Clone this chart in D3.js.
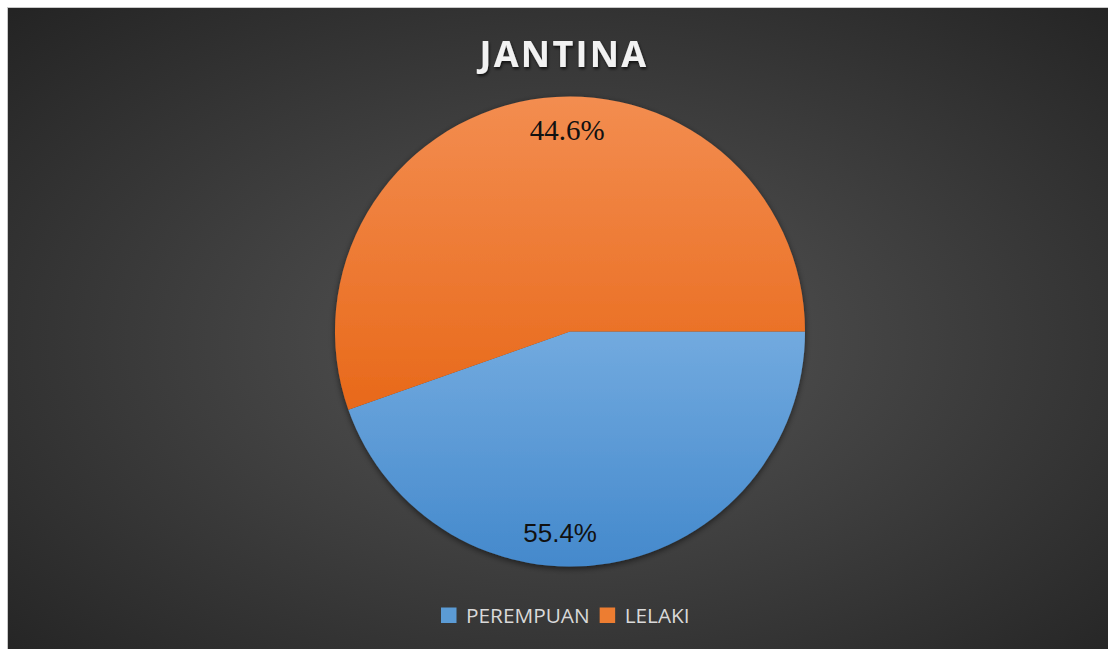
<!DOCTYPE html>
<html>
<head>
<meta charset="utf-8">
<script src="https://cdn.jsdelivr.net/npm/d3@7"></script>
<style>
  html, body { margin: 0; padding: 0; background: #fff; overflow: hidden; }
  svg { display: block; }
  .lbl-serif { font-family: "Liberation Serif", "DejaVu Serif", serif; }
  .lbl-sans { font-family: "Liberation Sans", Arial, sans-serif; }
</style>
</head>
<body>
<svg id="chart"></svg>
<script>
// JANTINA pie
const categories = ['PEREMPUAN', 'LELAKI'];
const sliceValues = [44.6, 55.4];
const labelTexts = ['55.4%', '44.6%'];
const sliceColors = [
  { top: '#72aadf', bottom: '#4489cc' },
  { top: '#f38d50', bottom: '#e8691a' }
];
const legendColors = ['#5b9bd5', '#ed7d31'];

const width = 1108, height = 649;
const svg = d3.select('#chart').attr('width', width).attr('height', height);
const defs = svg.append('defs');

// background radial gradient
const bg = defs.append('radialGradient').attr('id', 'bg')
  .attr('cx', '50%').attr('cy', '50%').attr('r', '70%');
bg.append('stop').attr('offset', '0%').attr('stop-color', '#565656');
bg.append('stop').attr('offset', '100%').attr('stop-color', '#242424');

sliceColors.forEach((c, i) => {
  const g = defs.append('linearGradient').attr('id', 'slice' + i)
    .attr('x1', 0).attr('y1', 0).attr('x2', 0).attr('y2', 1);
  g.append('stop').attr('offset', '0%').attr('stop-color', c.top);
  g.append('stop').attr('offset', '100%').attr('stop-color', c.bottom);
});

const shadow = defs.append('filter').attr('id', 'shadow')
  .attr('x', '-10%').attr('y', '-10%').attr('width', '120%').attr('height', '120%');
shadow.append('feDropShadow').attr('dx', 0).attr('dy', 2).attr('stdDeviation', 3)
  .attr('flood-color', '#000').attr('flood-opacity', 0.55);

const titleShadow = defs.append('filter').attr('id', 'tshadow')
  .attr('x', '-10%').attr('y', '-30%').attr('width', '120%').attr('height', '160%');
titleShadow.append('feDropShadow').attr('dx', 1).attr('dy', 2).attr('stdDeviation', 1.5)
  .attr('flood-color', '#000').attr('flood-opacity', 0.7);

// chart area with thin border
svg.append('rect')
  .attr('x', 7.5).attr('y', 7.5)
  .attr('width', width + 20).attr('height', height + 20)
  .attr('fill', 'url(#bg)')
  .attr('stroke', '#c8c8c8').attr('stroke-width', 1);

svg.append('text')
  .attr('x', 564).attr('y', 67)
  .attr('text-anchor', 'middle')
  .style('font-family', '"Open Sans", sans-serif')
  .style('font-weight', 'bold')
  .style('font-size', '36px')
  .style('letter-spacing', '2.3px')
  .attr('fill', '#f2f2f2')
  .attr('filter', 'url(#tshadow)')
  .text('JANTINA');

const cx = 570, cy = 331.5, radius = 235;
const pie = d3.pie().sort(null)
  .startAngle(Math.PI / 2).endAngle(Math.PI / 2 + 2 * Math.PI);
const arc = d3.arc().innerRadius(0).outerRadius(radius);
const arcs = pie(sliceValues);

const g = svg.append('g').attr('transform', `translate(${cx},${cy})`);
g.append('g').attr('filter', 'url(#shadow)')
  .selectAll('path')
  .data(arcs)
  .enter()
  .append('path')
  .attr('d', arc)
  .attr('fill', (d, i) => `url(#slice${i})`);

// data labels
const labelRadius = 202;
const labelAngles = [182.8, 359.2].map(a => a * Math.PI / 180);
const labelClasses = ['lbl-sans', 'lbl-serif'];
const labelSizes = [26, 29];
g.selectAll('text.lbl')
  .data(arcs)
  .enter()
  .append('text')
  .attr('class', (d, i) => 'lbl ' + labelClasses[i])
  .attr('x', (d, i) => labelRadius * Math.sin(labelAngles[i]))
  .attr('y', (d, i) => -labelRadius * Math.cos(labelAngles[i]))
  .attr('dy', '0.35em')
  .attr('text-anchor', 'middle')
  .attr('font-size', (d, i) => labelSizes[i])
  .attr('fill', '#111')
  .text((d, i) => labelTexts[i]);

// legend
const legend = svg.append('g').attr('transform', 'translate(0,623)');
let lx = 441;
categories.forEach((name, i) => {
  legend.append('rect')
    .attr('x', lx).attr('y', -15.5)
    .attr('width', 15.5).attr('height', 15.5)
    .attr('fill', legendColors[i]);
  const t = legend.append('text')
    .attr('x', lx + 25).attr('y', 0)
    .style('font-family', '"Open Sans", sans-serif')
    .style('font-size', '20.8px')
    .attr('fill', '#d9d9d9')
    .text(name);
  lx = lx + 25 + t.node().getComputedTextLength() + 10;
});
</script>
</body>
</html>
